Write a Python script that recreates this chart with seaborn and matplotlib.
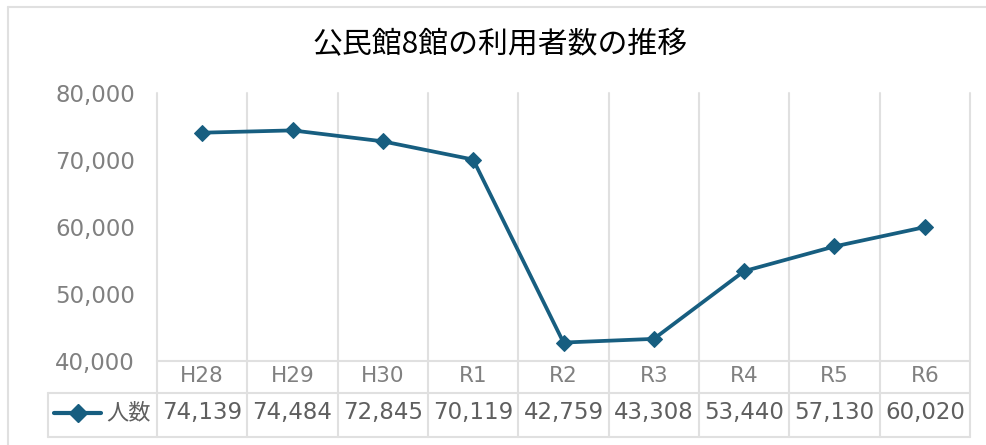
import matplotlib
matplotlib.use("Agg")
import matplotlib.pyplot as plt
from matplotlib.lines import Line2D
from matplotlib.ticker import FuncFormatter
import seaborn as sns
import pandas as pd

categories = ["H28", "H29", "H30", "R1", "R2", "R3", "R4", "R5", "R6"]
values = [74139, 74484, 72845, 70119, 42759, 43308, 53440, 57130, 60020]
series_name = "人数"
title = "公民館8館の利用者数の推移"
yticks = [40000, 50000, 60000, 70000, 80000]

sns.set_theme(style="white")
plt.rcParams["font.family"] = ["DejaVu Sans", "Noto Sans CJK JP"]

W, H = 986, 445
fig = plt.figure(figsize=(W / 100, H / 100), dpi=100)

def fx(px):
    return px / W

def fy(py):
    return 1 - py / H

ax_l, ax_r, ax_t, ax_b = 157, 970, 93.5, 361
ax = fig.add_axes([fx(ax_l), fy(ax_b), fx(ax_r - ax_l), (ax_b - ax_t) / H])

line_color = "#175E80"
grid_color = "#E0E0E0"
text_gray = "#808080"
val_gray = "#5F5F5F"

df = pd.DataFrame({"cat": categories, "val": values})
sns.lineplot(data=df, x="cat", y="val", ax=ax, color=line_color, linewidth=2.7,
             marker="D", markersize=8, markeredgecolor=line_color, sort=False)

ax.set_xlim(-0.5, len(categories) - 0.5)
ax.set_ylim(yticks[0], yticks[-1])
ax.set_yticks(yticks)
ax.yaxis.set_major_formatter(FuncFormatter(lambda v, p: f"{int(v):,}"))
ax.tick_params(axis="y", length=0, pad=16, labelsize=16.5, labelcolor=text_gray)
ax.set_xticks([])
ax.set_xlabel("")
ax.set_ylabel("")
for s in ax.spines.values():
    s.set_visible(False)

ax_h = ax_b - ax_t
def ay(py):
    return -(py - ax_b) / ax_h

xt = ax.get_xaxis_transform()
table_bottom = 437
row_split = 393
# vertical grid / table lines at category boundaries
for i in range(len(categories) + 1):
    b = i - 0.5
    ax.plot([b, b], [1, ay(table_bottom)], transform=xt, color=grid_color,
            linewidth=1.5, clip_on=False, zorder=0)
# horizontal table lines
ax.plot([-0.5, len(categories) - 0.5], [0, 0], transform=xt, color=grid_color,
        linewidth=1.5, clip_on=False, zorder=0)
for py in (row_split, table_bottom):
    fig.add_artist(Line2D([fx(48), fx(ax_r)], [fy(py), fy(py)], color=grid_color,
                          linewidth=1.5, transform=fig.transFigure, zorder=0))
fig.add_artist(Line2D([fx(48), fx(48)], [fy(row_split), fy(table_bottom)],
                      color=grid_color, linewidth=1.5, transform=fig.transFigure))

# table texts
for i, (c, v) in enumerate(zip(categories, values)):
    ax.text(i, ay(376.5), c, transform=xt, ha="center", va="center",
            fontsize=15.5, color=text_gray, clip_on=False)
    ax.text(i, ay(412.5), f"{v:,}", transform=xt, ha="center", va="center",
            fontsize=16.5, color=val_gray, clip_on=False)

# legend key in table
fig.add_artist(Line2D([fx(54), fx(101)], [fy(412.5), fy(412.5)], color=line_color,
                      linewidth=3, transform=fig.transFigure))
fig.add_artist(Line2D([fx(77.5)], [fy(412.5)], color=line_color, marker="D",
                      markersize=9, transform=fig.transFigure))
fig.text(fx(106), fy(412.5), series_name, ha="left", va="center", fontsize=16,
         color=val_gray, family=["Noto Sans CJK JP", "DejaVu Sans"])

# title
fig.text(fx(500), fy(45), title, ha="center", va="center", fontsize=21.5,
         color="#000000", family=["Noto Sans CJK JP", "DejaVu Sans"])

# outer chart frame
fig.add_artist(Line2D([fx(8), 1], [fy(6.5), fy(6.5)], color=grid_color,
                      linewidth=1.5, transform=fig.transFigure))
fig.add_artist(Line2D([fx(8), fx(8)], [fy(6.5), 0], color=grid_color,
                      linewidth=1.5, transform=fig.transFigure))

fig.savefig("out.png", dpi=100, facecolor="white")
